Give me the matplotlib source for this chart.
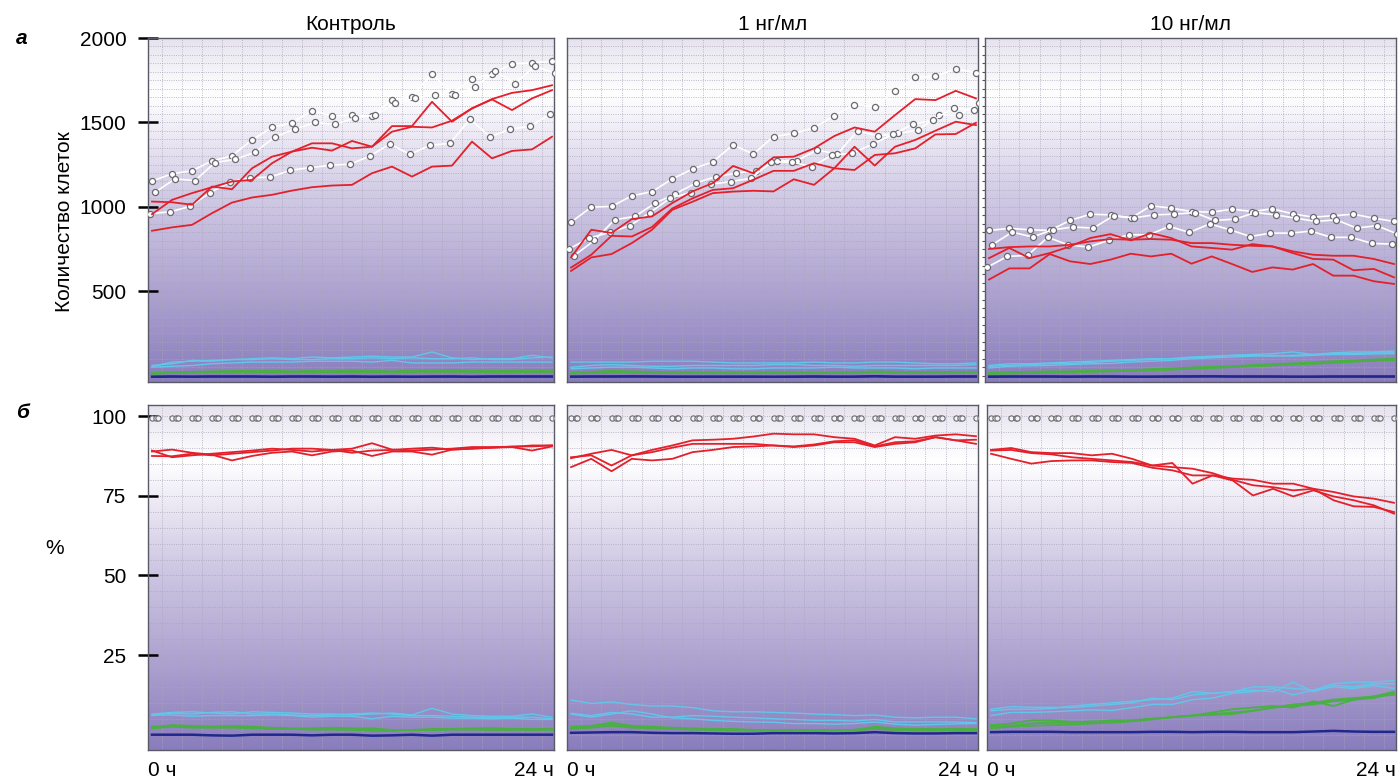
import numpy as np
import matplotlib
matplotlib.use("Agg")
import matplotlib.pyplot as plt
from matplotlib.colors import LinearSegmentedColormap

plt.rcParams['font.family'] = ['Liberation Sans', 'DejaVu Sans']

# time points (21 frames, 0 ч .. 24 ч)
t = np.arange(21)

panel_titles = ['Контроль', '1 нг/мл', '10 нг/мл']

# ---- а: cell counts ----
ctrl_white = [
    [1153, 1195, 1214, 1271, 1303, 1396, 1470, 1498, 1569, 1539, 1543, 1539, 1632, 1652, 1789, 1671, 1760, 1785, 1848, 1852, 1862],
    [1086, 1165, 1155, 1262, 1281, 1323, 1415, 1460, 1500, 1488, 1527, 1543, 1612, 1642, 1665, 1665, 1707, 1805, 1730, 1833, 1790],
    [960, 970, 1002, 1084, 1145, 1173, 1175, 1216, 1232, 1246, 1252, 1301, 1372, 1311, 1364, 1376, 1520, 1415, 1459, 1478, 1547],
]
ctrl_red = [
    [858, 878, 893, 962, 1025, 1055, 1071, 1096, 1116, 1126, 1130, 1199, 1238, 1179, 1238, 1244, 1386, 1287, 1331, 1340, 1415],
    [1031, 1027, 1012, 1120, 1104, 1228, 1297, 1327, 1376, 1376, 1346, 1356, 1478, 1478, 1622, 1504, 1583, 1636, 1573, 1642, 1691],
    [956, 1041, 1081, 1116, 1150, 1159, 1258, 1327, 1350, 1333, 1390, 1356, 1445, 1474, 1470, 1510, 1583, 1638, 1675, 1691, 1720],
]
ctrl_cyan = [
    [55, 80, 85, 90, 95, 100, 105, 100, 110, 105, 110, 115, 110, 110, 140, 105, 95, 100, 100, 120, 105],
    [60, 70, 90, 85, 95, 95, 100, 95, 95, 100, 100, 105, 100, 105, 100, 100, 105, 95, 95, 105, 110],
    [50, 55, 60, 70, 75, 80, 80, 80, 85, 85, 85, 80, 90, 75, 75, 75, 80, 80, 80, 80, 80],
]
ctrl_green = [
    [15, 20, 22, 25, 27, 28, 28, 25, 28, 27, 30, 28, 25, 30, 30, 32, 30, 28, 28, 30, 30],
    [12, 18, 20, 22, 22, 25, 25, 22, 22, 25, 25, 25, 22, 25, 28, 28, 25, 25, 22, 25, 25],
    [10, 15, 18, 20, 20, 22, 20, 20, 20, 22, 20, 20, 20, 22, 22, 22, 22, 20, 20, 22, 22],
]
ctrl_blue = [
    [-8, -6, -6, -5, -6, -5, -8, -6, -5, -6, -5, -8, -7, -6, -6, -5, -8, -6, -5, -6, -5],
    [-6, -5, -7, -6, -5, -6, -6, -5, -6, -7, -6, -6, -5, -8, -6, -6, -6, -5, -6, -5, -6],
]

low_white = [
    [909, 998, 1002, 1065, 1090, 1165, 1224, 1266, 1366, 1313, 1415, 1435, 1468, 1539, 1606, 1592, 1685, 1766, 1774, 1817, 1793],
    [710, 801, 923, 943, 1021, 1077, 1140, 1179, 1199, 1214, 1271, 1273, 1336, 1313, 1449, 1421, 1435, 1455, 1543, 1543, 1616],
    [750, 815, 848, 888, 966, 1051, 1084, 1134, 1149, 1169, 1267, 1264, 1238, 1307, 1317, 1372, 1429, 1490, 1514, 1587, 1573],
]
low_red = [
    [700, 864, 845, 927, 943, 1022, 1091, 1140, 1242, 1199, 1293, 1297, 1346, 1419, 1470, 1445, 1543, 1638, 1632, 1687, 1642],
    [640, 716, 828, 824, 880, 990, 1050, 1100, 1110, 1160, 1213, 1213, 1258, 1228, 1356, 1244, 1356, 1396, 1451, 1504, 1484],
    [620, 700, 720, 785, 864, 982, 1030, 1081, 1090, 1095, 1091, 1163, 1130, 1228, 1218, 1307, 1317, 1346, 1429, 1431, 1498],
]
low_cyan = [
    [80, 80, 80, 80, 85, 85, 85, 80, 75, 75, 75, 75, 80, 75, 75, 80, 80, 75, 70, 70, 75],
    [50, 60, 65, 60, 55, 55, 60, 60, 60, 60, 65, 65, 60, 60, 55, 60, 60, 60, 60, 60, 65],
    [40, 45, 50, 50, 45, 40, 45, 45, 40, 40, 45, 45, 45, 50, 45, 45, 45, 40, 45, 45, 45],
]
low_green = [
    [18, 22, 28, 25, 22, 20, 20, 18, 18, 18, 20, 18, 18, 18, 20, 25, 22, 20, 20, 22, 22],
    [15, 18, 22, 20, 18, 18, 15, 15, 15, 16, 16, 15, 15, 16, 18, 22, 20, 18, 18, 20, 20],
    [12, 15, 18, 18, 15, 15, 14, 14, 14, 14, 14, 14, 14, 15, 16, 18, 17, 16, 16, 18, 18],
]
low_blue = [
    [-6, -5, -5, -4, -5, -6, -6, -6, -6, -6, -7, -6, -5, -6, -6, -3, -6, -6, -6, -5, -5],
    [-7, -6, -6, -6, -6, -7, -7, -7, -7, -7, -7, -7, -6, -7, -7, -5, -7, -7, -7, -6, -6],
]

high_white = [
    [860, 872, 864, 860, 919, 956, 952, 933, 1006, 992, 972, 968, 986, 972, 988, 958, 939, 947, 956, 933, 913],
    [775, 850, 821, 864, 880, 874, 947, 935, 952, 956, 966, 919, 927, 966, 952, 933, 913, 923, 874, 888, 840],
    [641, 706, 712, 819, 775, 761, 801, 834, 834, 884, 848, 899, 864, 824, 844, 844, 856, 819, 819, 783, 779],
]
high_red = [
    [750, 761, 765, 765, 775, 795, 809, 805, 809, 805, 785, 785, 775, 769, 765, 736, 716, 710, 710, 691, 661],
    [696, 756, 696, 726, 765, 815, 838, 801, 844, 815, 765, 756, 746, 779, 765, 726, 691, 687, 624, 632, 582],
    [569, 635, 635, 720, 677, 661, 687, 722, 706, 722, 663, 706, 661, 614, 641, 628, 661, 592, 592, 559, 543],
]
high_cyan = [
    [60, 70, 70, 75, 80, 85, 90, 95, 100, 100, 110, 115, 120, 125, 130, 140, 125, 135, 140, 140, 145],
    [55, 60, 65, 70, 72, 78, 85, 90, 95, 100, 105, 110, 120, 120, 115, 120, 125, 130, 130, 135, 135],
    [45, 55, 58, 60, 65, 70, 72, 80, 85, 90, 100, 105, 110, 115, 120, 115, 120, 125, 125, 128, 130],
]
high_green = [
    [15, 20, 22, 25, 25, 28, 30, 32, 38, 42, 48, 52, 55, 62, 68, 72, 78, 85, 90, 95, 100],
    [12, 15, 18, 20, 22, 25, 28, 30, 35, 38, 42, 48, 52, 58, 62, 68, 74, 80, 85, 90, 96],
    [10, 12, 15, 18, 20, 22, 25, 28, 32, 35, 40, 45, 50, 55, 60, 65, 70, 75, 82, 88, 92],
]
high_blue = [
    [-6, -5, -5, -5, -6, -5, -5, -6, -6, -5, -4, -4, -5, -5, -5, -6, -6, -5, -5, -5, -5],
    [-7, -6, -6, -6, -7, -6, -6, -7, -7, -6, -6, -5, -6, -6, -6, -7, -7, -6, -6, -6, -6],
]

# ---- б: percentages ----
pct_total = [99.5, 99.5, 99.5, 99.5, 99.5, 99.5, 99.5, 99.5, 99.5, 99.5, 99.5,
             99.5, 99.5, 99.5, 99.5, 99.5, 99.5, 99.5, 99.5, 99.5, 99.5]

ctrl_pct_red = [
    [88.9, 89.5, 88.5, 87.9, 86.1, 87.5, 88.5, 88.9, 87.7, 88.9, 89.2, 87.5, 88.9, 88.9, 87.9, 89.5, 89.8, 90.1, 90.3, 89.2, 90.5],
    [89.2, 87.1, 87.7, 88.2, 88.7, 89.2, 89.8, 89.4, 88.9, 89.4, 89.8, 91.5, 89.5, 89.2, 89.5, 89.8, 90.3, 90.3, 90.3, 90.8, 90.8],
    [87.5, 87.4, 88.2, 87.7, 88.2, 88.7, 89.2, 89.8, 89.8, 89.4, 88.5, 89.2, 89.4, 89.8, 90.1, 89.5, 89.8, 90.1, 90.5, 90.5, 90.8],
]
ctrl_pct_cyan = [
    [6.5, 7.0, 7.2, 6.8, 6.5, 7.2, 7.0, 6.8, 6.5, 6.5, 6.2, 6.5, 6.8, 6.2, 8.3, 6.5, 6.0, 5.8, 5.8, 6.5, 5.5],
    [6.0, 6.8, 6.5, 7.0, 7.2, 6.5, 6.5, 6.2, 6.0, 6.2, 6.5, 6.8, 6.5, 6.0, 6.0, 5.8, 5.5, 5.5, 5.5, 5.5, 5.0],
    [6.2, 6.2, 5.8, 6.0, 6.0, 6.0, 6.2, 6.0, 5.5, 5.8, 5.8, 5.0, 5.8, 5.5, 5.5, 5.2, 5.2, 5.0, 5.2, 4.8, 4.8],
]
ctrl_pct_green = [
    [2.5, 2.8, 2.5, 2.5, 2.8, 2.5, 2.2, 2.0, 2.0, 2.2, 2.0, 2.0, 1.5, 1.5, 1.8, 1.8, 2.0, 2.0, 1.8, 1.5, 1.8],
    [2.2, 3.0, 2.8, 2.5, 2.5, 2.2, 2.0, 1.8, 1.8, 2.0, 1.8, 1.2, 1.2, 1.5, 1.5, 1.8, 1.8, 2.0, 1.8, 1.8, 1.8],
    [2.0, 2.5, 2.2, 2.2, 2.2, 2.0, 1.8, 1.8, 1.6, 1.6, 1.5, 1.5, 1.4, 1.5, 1.5, 1.6, 1.6, 1.5, 1.5, 1.6, 1.5],
]
ctrl_pct_blue = [
    [0.0, 0.0, 0.0, -0.2, -0.3, 0.0, 0.0, 0.0, -0.2, 0.0, 0.0, -0.3, -0.2, 0.0, -0.3, 0.0, 0.0, 0.0, 0.0, 0.0, 0.0],
]

low_pct_red = [
    [86.8, 88.2, 89.4, 87.7, 89.4, 90.8, 92.4, 92.6, 92.9, 93.6, 94.5, 94.3, 94.3, 93.4, 92.9, 90.8, 93.4, 92.9, 93.9, 94.3, 93.7],
    [84.0, 86.6, 82.7, 86.6, 86.1, 86.6, 88.7, 89.4, 90.3, 90.5, 90.8, 90.3, 90.8, 91.8, 91.8, 90.3, 91.3, 91.8, 93.4, 92.4, 92.6],
    [87.1, 87.7, 84.5, 87.7, 88.7, 90.1, 91.3, 91.3, 91.3, 91.3, 90.8, 90.5, 91.1, 92.1, 92.4, 90.5, 91.8, 92.1, 93.4, 92.4, 91.3],
]
low_pct_cyan = [
    [10.9, 9.8, 10.3, 9.5, 9.0, 9.0, 8.5, 7.5, 7.2, 7.2, 7.0, 6.8, 6.5, 6.3, 6.0, 6.2, 5.5, 5.3, 5.5, 5.5, 5.0],
    [6.7, 6.0, 7.0, 6.5, 5.5, 5.5, 6.0, 5.8, 5.5, 5.3, 5.0, 4.8, 4.5, 4.5, 4.3, 4.8, 4.0, 4.0, 4.0, 4.0, 3.8],
    [6.5, 5.5, 6.5, 7.5, 6.5, 5.3, 5.0, 4.5, 4.2, 4.0, 3.9, 3.5, 3.5, 3.3, 3.5, 4.0, 3.3, 3.0, 3.2, 3.4, 3.5],
]
low_pct_green = [
    [2.5, 2.8, 3.8, 2.8, 2.5, 2.2, 2.0, 1.8, 1.8, 1.5, 1.5, 1.5, 1.5, 1.5, 1.5, 2.5, 2.0, 1.8, 1.8, 1.8, 1.8],
    [2.0, 2.5, 3.2, 2.5, 2.2, 2.0, 1.8, 1.6, 1.5, 1.4, 1.4, 1.3, 1.3, 1.4, 1.5, 2.2, 1.8, 1.6, 1.6, 1.6, 1.6],
    [1.8, 2.2, 2.8, 2.2, 2.0, 1.8, 1.6, 1.5, 1.4, 1.3, 1.3, 1.2, 1.2, 1.3, 1.4, 1.8, 1.5, 1.4, 1.4, 1.4, 1.5],
]
low_pct_blue = [
    [0.6, 0.7, 0.8, 0.8, 0.6, 0.5, 0.5, 0.4, 0.3, 0.3, 0.5, 0.5, 0.5, 0.4, 0.5, 0.8, 0.5, 0.4, 0.4, 0.5, 0.5],
]

high_pct_red = [
    [89.4, 90.0, 88.7, 88.4, 88.4, 87.7, 88.2, 86.6, 84.5, 85.3, 78.8, 81.4, 80.4, 80.0, 78.8, 78.8, 77.2, 76.2, 74.8, 74.1, 72.8],
    [88.2, 86.6, 85.1, 85.9, 86.1, 86.1, 85.6, 85.3, 83.8, 83.0, 81.4, 81.4, 79.8, 75.1, 77.2, 74.8, 76.7, 74.8, 73.6, 72.0, 69.4],
    [89.2, 89.4, 88.4, 88.0, 87.1, 86.6, 86.1, 85.6, 84.5, 84.0, 83.5, 82.1, 80.0, 78.3, 77.7, 76.7, 77.2, 73.6, 71.7, 71.5, 69.9],
]
high_pct_cyan = [
    [8.0, 8.8, 8.6, 8.6, 8.5, 9.0, 9.5, 10.0, 11.5, 11.0, 12.5, 13.0, 13.5, 15.0, 15.0, 14.5, 14.0, 16.0, 16.5, 16.5, 17.0],
    [7.5, 8.0, 8.0, 8.2, 9.0, 9.5, 10.0, 10.5, 11.0, 11.5, 13.5, 13.0, 13.5, 14.0, 13.5, 16.5, 13.5, 15.5, 15.0, 16.0, 16.0],
    [6.0, 7.0, 7.0, 7.2, 7.5, 7.8, 7.6, 8.5, 9.5, 9.5, 11.0, 11.5, 13.0, 13.5, 14.5, 12.5, 14.0, 15.0, 14.5, 15.5, 14.5],
]
high_pct_green = [
    [3.0, 3.5, 4.5, 4.5, 4.0, 4.0, 4.5, 4.5, 5.0, 5.5, 6.0, 6.5, 7.0, 7.5, 8.5, 9.0, 9.5, 10.5, 11.0, 11.5, 13.0],
    [2.5, 2.8, 3.5, 3.8, 3.8, 4.2, 4.0, 4.5, 5.0, 5.5, 6.0, 7.0, 8.0, 8.5, 9.0, 8.5, 10.5, 9.0, 11.0, 12.0, 13.5],
    [2.0, 2.5, 2.8, 3.0, 3.2, 3.5, 3.8, 4.2, 4.8, 5.5, 6.0, 6.2, 6.5, 7.5, 8.5, 9.5, 10.0, 11.0, 11.5, 12.0, 12.5],
]
high_pct_blue = [
    [0.8, 0.9, 0.9, 0.9, 0.8, 0.8, 0.8, 0.8, 0.9, 0.9, 0.8, 0.9, 0.9, 0.8, 0.8, 0.8, 1.0, 1.2, 1.0, 0.9, 0.9],
]

top_data = [
    (ctrl_white, ctrl_red, ctrl_cyan, ctrl_green, ctrl_blue),
    (low_white, low_red, low_cyan, low_green, low_blue),
    (high_white, high_red, high_cyan, high_green, high_blue),
]
bot_data = [
    (ctrl_pct_red, ctrl_pct_cyan, ctrl_pct_green, ctrl_pct_blue),
    (low_pct_red, low_pct_cyan, low_pct_green, low_pct_blue),
    (high_pct_red, high_pct_cyan, high_pct_green, high_pct_blue),
]

RED = '#e4202b'
CYAN = '#62c6ea'
GREEN = '#4bb043'
BLUE = '#22288a'

bg = LinearSegmentedColormap.from_list('bg', [
    (0.0, '#e6e3ee'), (0.16, '#ffffff'), (0.45, '#d2cbe5'),
    (0.75, '#aca1cf'), (1.0, '#8a7dbd')])
grad = np.linspace(0, 1, 256).reshape(-1, 1)

fig = plt.figure(figsize=(14, 7.79), dpi=100)

W, H = 1400, 779
cols_top = [(148, 554), (567, 978), (985, 1396)]
cols_bot = [(148, 554), (567, 978), (987, 1396)]


def make_ax(x0, x1, y0, y1):
    return fig.add_axes([x0 / W, 1 - y1 / H, (x1 - x0) / W, (y1 - y0) / H])


def dress(ax, ylim, hstep, xlim=(-0.2, 20.1)):
    ax.imshow(grad, extent=[0, 1, 0, 1], transform=ax.transAxes,
              aspect='auto', cmap=bg, zorder=0, interpolation='bilinear')
    ax.set_xlim(*xlim)
    ax.set_ylim(*ylim)
    for yy in np.arange(0, ylim[1], hstep):
        ax.axhline(yy, color='#a9a6b8', lw=0.55, ls=(0, (1.2, 1.8)), zorder=1)
    for xx in np.arange(0.5, 20.5, 1):
        ax.axvline(xx, color='#a9a6b8', lw=0.55, ls=(0, (1.2, 1.8)), zorder=1)
    for s in ax.spines.values():
        s.set_color('#5a5a66')
        s.set_linewidth(1.0)
    ax.set_xticks([])
    ax.set_yticks([])


white_shift = [0.0, 0.15, -0.1]

for k in range(3):
    white, red, cyan, green, blue = top_data[k]
    ax = make_ax(cols_top[k][0], cols_top[k][1], 38, 382)
    dress(ax, (-38, 2000), 50)
    for s in blue:
        ax.plot(t, s, color=BLUE, lw=1.6, zorder=3)
    for s in green:
        ax.plot(t, s, color=GREEN, lw=1.3, zorder=3)
    for s in cyan:
        ax.plot(t, s, color=CYAN, lw=1.0, zorder=3)
    for j, s in enumerate(white):
        ax.plot(t + white_shift[j], s, color='white', lw=1.2, marker='o',
                ms=4.4, mfc='white', mec='#6a6a70', mew=0.9, zorder=4)
    for s in red:
        ax.plot(t, s, color=RED, lw=1.3, zorder=5)
    ax.set_title(panel_titles[k], fontsize=15, pad=6)
    if k == 0:
        ax.set_yticks([500, 1000, 1500, 2000])
        ax.tick_params(axis='y', direction='inout', length=15, width=1.8,
                       color='black', labelsize=15, pad=8)
    if k == 2:
        ax.set_yticks(np.arange(0, 2000, 50), minor=True)
        ax.tick_params(axis='y', which='minor', direction='out', length=2.5,
                       width=0.8, color='#555555')

for k in range(3):
    red, cyan, green, blue = bot_data[k]
    ax = make_ax(cols_bot[k][0], cols_bot[k][1], 405, 750)
    dress(ax, (-4.8, 103.5), 5)
    for s in blue:
        ax.plot(t, s, color=BLUE, lw=1.8, zorder=3)
    for s in green:
        ax.plot(t, s, color=GREEN, lw=1.3, zorder=3)
    for s in cyan:
        ax.plot(t, s, color=CYAN, lw=1.0, zorder=3)
    for sh in [0.0, 0.22, 0.3]:
        ax.plot(t + sh, pct_total, ls='none', marker='o', ms=3.8,
                mfc='#f4f4f6', mec='#6a6a70', mew=0.8, zorder=4)
    for s in red:
        ax.plot(t, s, color=RED, lw=1.3, zorder=5)
    if k == 0:
        ax.set_yticks([25, 50, 75, 100])
        ax.tick_params(axis='y', direction='inout', length=15, width=1.8,
                       color='black', labelsize=15, pad=8)
    fig.text(cols_bot[k][0] / W, 1 - 770 / H, '0 ч', fontsize=15,
             ha='left', va='center')
    fig.text(cols_bot[k][1] / W, 1 - 770 / H, '24 ч', fontsize=15,
             ha='right', va='center')

fig.text(16 / W, 1 - 38 / H, 'а', fontsize=15, fontweight='bold',
         fontstyle='italic', ha='left', va='center')
fig.text(16 / W, 1 - 413 / H, 'б', fontsize=15, fontweight='bold',
         fontstyle='italic', ha='left', va='center')
fig.text(65 / W, 1 - 222 / H, 'Количество клеток', fontsize=15,
         rotation=90, ha='center', va='center')
fig.text(55 / W, 1 - 548 / H, '%', fontsize=15, ha='center', va='center')

fig.savefig('out.png', dpi=100)
